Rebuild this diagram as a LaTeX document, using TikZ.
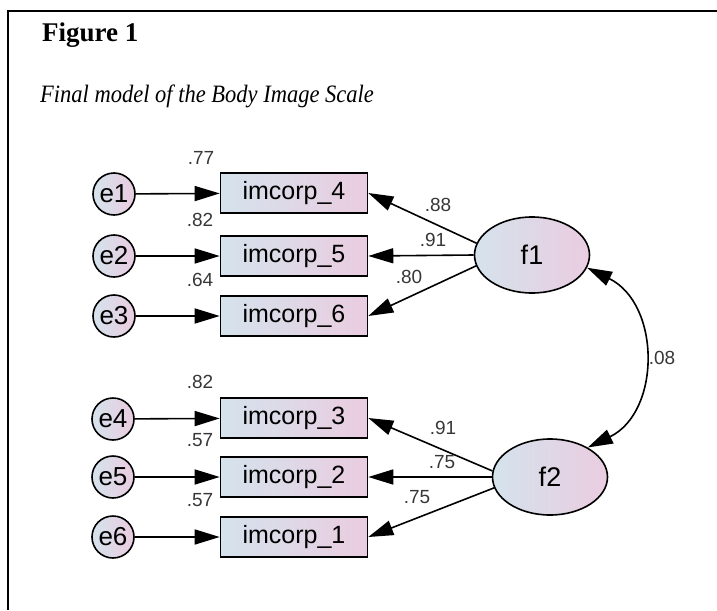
\documentclass[tikz,border=0pt]{standalone}
\usepackage{fontspec}
\setmainfont{Liberation Serif}
\newfontfamily\diagfont{Liberation Sans}
\newfontfamily\capfont[FakeStretch=0.9]{Liberation Serif}
\usetikzlibrary{arrows.meta,shapes.geometric}
\definecolor{fillblue}{RGB}{212,227,236}
\definecolor{fillpink}{RGB}{234,204,224}
\definecolor{coefgray}{RGB}{55,55,55}
\begin{document}
\begin{tikzpicture}[x=1pt,y=-1pt,
  every node/.style={inner sep=0pt},
  shaded/.style={draw, line width=1.6pt, left color=fillblue, right color=fillpink},
  obsvar/.style={shaded, rectangle, minimum width=147pt, minimum height=40pt,
    font=\diagfont\fontsize{25}{25}\selectfont},
  errvar/.style={shaded, circle, minimum size=42pt,
    font=\diagfont\fontsize{26}{26}\selectfont},
  latvar/.style={shaded, ellipse, minimum width=115pt, minimum height=76pt,
    font=\diagfont\fontsize{27}{27}\selectfont},
  coef/.style={font=\diagfont\fontsize{19}{19}\selectfont, text=coefgray},
  arrowline/.style={line width=1.6pt, -{Triangle[length=25pt,width=15pt]}},
  covline/.style={line width=1.6pt, {Triangle[length=25pt,width=15pt]}-{Triangle[length=25pt,width=15pt]}}
]
\useasboundingbox (0,0) rectangle (717,610);

% frame and captions
\draw[line width=1.5pt] (717,11) -- (8,11) -- (8,610);
\node[anchor=base west, font=\bfseries\fontsize{27}{27}\selectfont] (title) at (42,42) {Figure 1};
\node[anchor=base west, font=\capfont\itshape\fontsize{25}{25}\selectfont] (subtitle) at (40,102) {Final model of the Body Image Scale};

% observed items
\node[obsvar] (i4) at (294,193) {imcorp\_4};
\node[obsvar] (i5) at (294,256) {imcorp\_5};
\node[obsvar] (i6) at (294,316) {imcorp\_6};
\node[obsvar] (i3) at (294,418) {imcorp\_3};
\node[obsvar] (i2) at (294,477) {imcorp\_2};
\node[obsvar] (i1) at (294,537) {imcorp\_1};

% error terms
\node[errvar] (e1) at (114,194) {e1};
\node[errvar] (e2) at (114,256) {e2};
\node[errvar] (e3) at (114,316) {e3};
\node[errvar] (e4) at (113,419) {e4};
\node[errvar] (e5) at (113,477) {e5};
\node[errvar] (e6) at (113,537) {e6};

% latent factors
\node[latvar] (f1) at (532,255) {f1};
\node[latvar] (f2) at (550,477) {f2};

% error paths
\draw[arrowline] (e1) -- (i4);
\draw[arrowline] (e2) -- (i5);
\draw[arrowline] (e3) -- (i6);
\draw[arrowline] (e4) -- (i3);
\draw[arrowline] (e5) -- (i2);
\draw[arrowline] (e6) -- (i1);

% factor loadings
\draw[arrowline] (f1.168) -- (i4.east);
\draw[arrowline] (f1.180) -- (i5.east);
\draw[arrowline] (f1.191) -- (i6.east);
\draw[arrowline] (f2.174) -- (i3.east);
\draw[arrowline] (f2.180) -- (i2.east);
\draw[arrowline] (f2.191) -- (i1.east);

% factor covariance
\draw[covline] (f1.-13) .. controls (661,304) and (661,412) .. (f2.38);

% squared multiple correlations
\node[coef] (r4) at (201,158) {.77};
\node[coef] (r5) at (200,220) {.82};
\node[coef] (r6) at (200,280) {.64};
\node[coef] (r3) at (200,382) {.82};
\node[coef] (r2) at (200,440) {.57};
\node[coef] (r1) at (200,500) {.57};

% loading estimates
\node[coef] (l4) at (438,205) {.88};
\node[coef] (l5) at (433,240) {.91};
\node[coef] (l6) at (409,277) {.80};
\node[coef] (l3) at (443,428) {.91};
\node[coef] (l2) at (442,462) {.75};
\node[coef] (l1) at (417,497) {.75};
\node[coef] (cov) at (662,358) {.08};
\end{tikzpicture}
\end{document}
